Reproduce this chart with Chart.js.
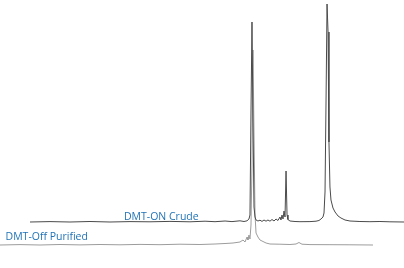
<!DOCTYPE html>
<html lang="en">
<head>
    <meta charset="UTF-8">
    <title>DMT-ON Crude vs DMT-Off Purified</title>
    <script src="https://cdn.jsdelivr.net/npm/chart.js"></script>
    <style>
        body {
            margin: 0;
            background-color: #ffffff;
            font-family: "Open Sans", Arial, sans-serif;
        }
        #wrap {
            width: 404px;
            height: 268px;
            position: relative;
        }
    </style>
</head>
<body>
    <div id="wrap"><canvas id="chromChart"></canvas></div>
    <script>
        // Retention time (min) and detector signal (mAU)
        const crudeTime = [2.97, 4.95, 6.93, 8.91, 10.89, 12.87, 14.85, 16.83, 18.81, 20.30, 21.29, 22.28, 22.97, 23.76, 24.16, 24.46, 24.65, 24.75, 24.85, 24.95, 25.05, 25.15, 25.25, 25.35, 25.54, 25.74, 25.94, 26.14, 26.34, 26.53, 26.73, 26.93, 27.13, 27.33, 27.52, 27.72, 27.82, 27.92, 28.02, 28.12, 28.22, 28.32, 28.42, 28.51, 28.71, 29.21, 29.70, 30.69, 31.29, 31.58, 31.78, 31.98, 32.08, 32.18, 32.28, 32.38, 32.48, 32.57, 32.67, 32.77, 32.97, 33.17, 33.47, 33.76, 34.16, 34.65, 35.64, 36.63, 37.62, 38.61, 40.00];
        const crudeSignal = [0, 0.4, 0, 0.5, 0, 0.4, 0.2, 0.6, 0.2, 0.8, 0.3, 1, 0.4, 1.2, 0.5, 1.2, 3, 7, 110, 200, 100, 15, 5, 2, 1, 1.8, 0.6, 2, 0.8, 2, 0.8, 2.5, 1, 3, 1.5, 5, 2, 7, 3, 11, 5, 51, 7, 2.5, 1, 0.5, 0.3, 0.4, 0.8, 1.5, 3, 5, 9, 30, 120, 218, 190, 80, 35, 22, 14, 10, 6, 4, 2, 1, 0.5, 0.3, 0.5, 0.2, 0];

        const pureTime = [0, 1.98, 3.96, 5.94, 7.92, 9.90, 11.88, 13.86, 15.84, 17.82, 19.80, 21.29, 22.28, 23.07, 23.76, 24.06, 24.26, 24.46, 24.55, 24.65, 24.75, 24.85, 24.95, 25.05, 25.15, 25.25, 25.35, 25.54, 25.74, 26.04, 26.34, 26.73, 27.72, 28.71, 29.31, 29.60, 29.90, 30.69, 32.67, 34.65, 36.93];
        const pureSignal = [0, 0.4, 0, 0.5, 0.1, 0.5, 0.2, 0.6, 0.3, 0.8, 0.5, 1, 1.5, 2, 3, 5, 3, 8, 5, 10, 6, 20, 80, 195, 110, 30, 12, 8, 5, 3.5, 2, 1, 0.8, 0.5, 1, 2.5, 0.8, 0.4, 0.3, 0.2, 0];

        // vertical stacking of the two traces
        const crudeOffset = 46;
        const pureOffset = 23;

        const crudeData = crudeTime.map((t, i) => ({ x: t, y: crudeSignal[i] + crudeOffset }));
        const pureData = pureTime.map((t, i) => ({ x: t, y: pureSignal[i] + pureOffset }));

        // trace labels, anchored in data space (alphabetic baseline)
        const traceLabels = [
            { text: 'DMT-ON Crude', x: 19.67, y: 48, align: 'right' },
            { text: 'DMT-Off Purified', x: 0.55, y: 28, align: 'left' }
        ];

        const labelPlugin = {
            id: 'traceLabels',
            afterDatasetsDraw(chart) {
                const ctx = chart.ctx;
                const xs = chart.scales.x;
                const ys = chart.scales.y;
                ctx.save();
                ctx.font = '10.5px "Open Sans", Arial, sans-serif';
                ctx.fillStyle = '#1f72b6';
                ctx.textBaseline = 'alphabetic';
                traceLabels.forEach(l => {
                    ctx.textAlign = l.align;
                    ctx.fillText(l.text, xs.getPixelForValue(l.x), ys.getPixelForValue(l.y));
                });
                ctx.restore();
            }
        };

        new Chart(document.getElementById('chromChart'), {
            type: 'line',
            data: {
                datasets: [
                    {
                        label: 'DMT-ON Crude',
                        data: crudeData,
                        borderColor: '#4a4a4a',
                        borderWidth: 1,
                        pointRadius: 0,
                        tension: 0,
                        fill: false
                    },
                    {
                        label: 'DMT-Off Purified',
                        data: pureData,
                        borderColor: '#9c9c9c',
                        borderWidth: 1,
                        pointRadius: 0,
                        tension: 0,
                        fill: false
                    }
                ]
            },
            options: {
                responsive: true,
                maintainAspectRatio: false,
                animation: false,
                layout: { padding: 0 },
                scales: {
                    x: { type: 'linear', min: 0, max: 40, display: false },
                    y: { type: 'linear', min: 0, max: 268, display: false }
                },
                plugins: {
                    legend: { display: false },
                    tooltip: { enabled: false }
                }
            },
            plugins: [labelPlugin]
        });
    </script>
</body>
</html>
